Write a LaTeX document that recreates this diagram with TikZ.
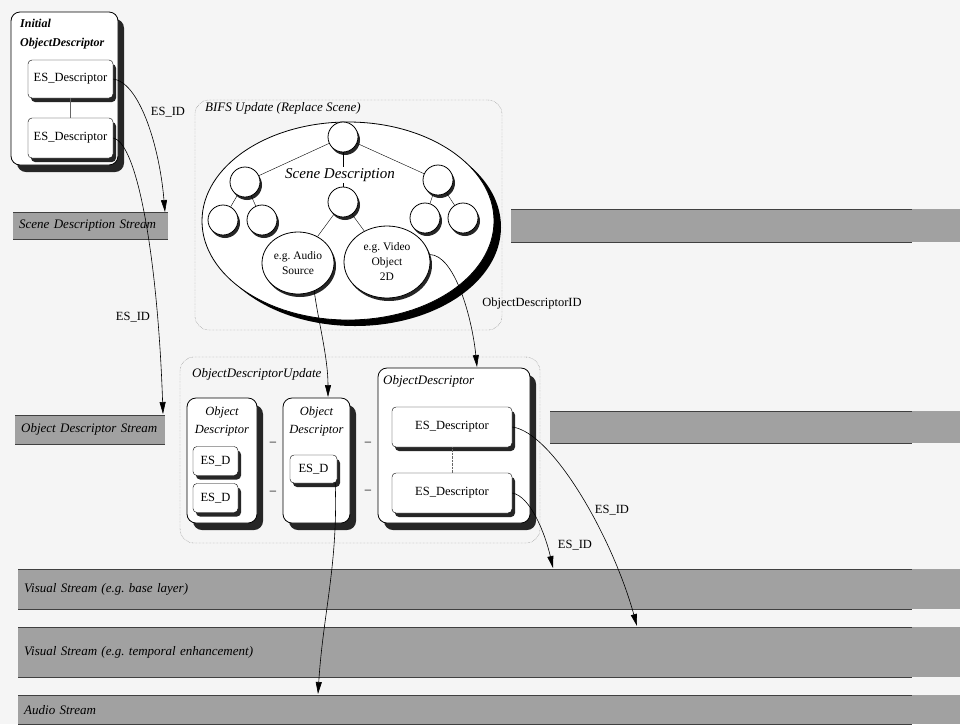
\documentclass[tikz,border=0pt]{standalone}
\usepackage{fontspec}
\setmainfont{Liberation Serif}
\usepackage{tikz}
\usetikzlibrary{arrows.meta,shapes.geometric,positioning,calc,shadows}

\begin{document}
\frenchspacing
\begin{tikzpicture}[x=1pt, y=-1pt,
    font=\fontsize{12.5}{16}\selectfont,
    odbox/.style={draw, thick, rounded corners=9pt, fill=white, drop shadow={shadow xshift=6pt, shadow yshift=-7pt, opacity=1, fill=black!85}},
    esbox/.style={draw, rounded corners=4pt, fill=white, inner sep=0pt, drop shadow={shadow xshift=3pt, shadow yshift=-4pt, opacity=1, fill=black!85}},
    tnode/.style={circle, draw, thick, fill=white, minimum size=30pt, inner sep=0pt, drop shadow={shadow xshift=2pt, shadow yshift=-3pt, opacity=1, fill=black!85}},
    bignode/.style={ellipse, draw, thick, fill=white, inner sep=0pt, align=center, font=\fontsize{11.5}{15}\selectfont, drop shadow={shadow xshift=2pt, shadow yshift=-3pt, opacity=1, fill=black!85}},
    grp/.style={draw=black!60, densely dotted, rounded corners=14pt},
    ttl/.style={font=\fontsize{13}{16}\selectfont\itshape, anchor=west, inner sep=0pt},
    odttl/.style={font=\fontsize{12.5}{18}\selectfont\itshape, align=center, inner sep=0pt},
    band/.style={fill=black!37, anchor=north west, inner xsep=6pt, inner ysep=0pt, align=left, font=\fontsize{13}{14}\selectfont\itshape},
    bline/.style={black!75, line width=1pt},
    arr/.style={-{Triangle[length=12pt, width=6pt]}, semithick},
    lbl/.style={inner sep=1pt}
]
\useasboundingbox (0,0) rectangle (960,724);
\fill[black!4] (0,0) rectangle (960,724);

% streams
\node[band, minimum width=155pt, minimum height=27pt, text width=143pt] (sdsl) at (13,212) {Scene Description Stream};
\node[band, minimum width=449pt, minimum height=33pt] (sdsr) at (511,209) {};
\node[band, minimum width=150pt, minimum height=29pt, text width=138pt] (odsl) at (15,415) {Object Descriptor Stream};
\node[band, minimum width=410pt, minimum height=32pt] (odsr) at (550,411) {};
\node[band, minimum width=942pt, minimum height=40pt, text width=930pt] (vbase) at (18,569) {Visual Stream (e.g. base layer)};
\node[band, minimum width=942pt, minimum height=50pt, text width=930pt] (vtemp) at (18,627) {Visual Stream (e.g. temporal enhancement)};
\node[band, minimum width=942pt, minimum height=29pt, text width=930pt] (aud) at (18,695) {Audio Stream};

\coordinate (xend) at (912,0);
\foreach \b in {sdsl,odsl} {
  \draw[bline] (\b.north west) -- (\b.north east);
  \draw[bline] (\b.south west) -- (\b.south east);
}
\foreach \b in {sdsr,odsr,vbase,vtemp,aud} {
  \draw[bline] (\b.north west) -- (\b.north west -| xend);
  \draw[bline] (\b.south west) -- (\b.south west -| xend);
}

% initial object descriptor
\node[odbox, minimum width=107pt, minimum height=153pt] (initod) at (64.5,88.5) {};
\node[font=\fontsize{12}{19}\selectfont\bfseries\itshape, anchor=north west, align=left, inner sep=0pt] (initttl) at (20,19) {Initial\\ObjectDescriptor};
\node[esbox, minimum width=85pt, minimum height=38pt] (ies1) at (70.5,79) {ES\_Descriptor};
\node[esbox, minimum width=85pt, minimum height=40pt] (ies2) at (70.5,138) {ES\_Descriptor};
\draw[black!60] (ies1) -- (ies2);

% BIFS update
\node[grp, minimum width=307pt, minimum height=230pt] (bifs) at (348.5,215) {};
\node[ttl] (bifsttl) at (205,108) {BIFS Update (Replace Scene)};
\node[ellipse, draw, thick, fill=white, minimum width=292pt, minimum height=198pt, drop shadow={shadow xshift=7pt, shadow yshift=-6pt, opacity=1, fill=black}] (scene) at (348,221) {};

\node[tnode] (t0) at (343,137) {};
\node[tnode] (tl) at (245,182) {};
\node[tnode] (tm) at (343,202) {};
\node[tnode] (tr) at (438,180) {};
\node[tnode] (tll) at (223,220) {};
\node[tnode] (tlr) at (262,220) {};
\node[tnode] (trl) at (425,218) {};
\node[tnode] (trr) at (463,218) {};
\node[bignode, minimum width=72pt, minimum height=62pt] (audio) at (298,263) {e.g. Audio\\Source};
\node[bignode, minimum width=86pt, minimum height=72pt] (video) at (387,262) {e.g. Video\\Object\\2D};

\draw (t0) -- (tl);
\draw (t0) -- (tm);
\draw (t0) -- (tr);
\draw (tl) -- (tll);
\draw (tl) -- (tlr);
\draw (tr) -- (trl);
\draw (tr) -- (trr);
\draw (tm) -- (audio);
\draw (tm) -- (video);
\node[font=\fontsize{15}{18}\selectfont\itshape, fill=white, inner sep=1pt] (scenettl) at (340,175) {Scene Description};

% object descriptor update
\node[grp, minimum width=360pt, minimum height=186pt] (odu) at (360,450) {};
\node[ttl] (oduttl) at (192,374) {ObjectDescriptorUpdate};

\node[odbox, minimum width=70pt, minimum height=125pt] (od1) at (222,460.5) {};
\node[odttl] (od1ttl) at (222,421) {Object\\Descriptor};
\node[esbox, minimum width=45pt, minimum height=29pt] (od1a) at (215.5,461) {ES\_D};
\node[esbox, minimum width=45pt, minimum height=29pt] (od1b) at (215.5,498) {ES\_D};

\node[odbox, minimum width=67pt, minimum height=125pt] (od2) at (316.5,460.5) {};
\node[odttl] (od2ttl) at (316.5,421) {Object\\Descriptor};
\node[esbox, minimum width=47pt, minimum height=28pt] (oes) at (313.5,469) {ES\_D};

\node[inner sep=0pt] (d1) at (273,444) {--};
\node[inner sep=0pt] (d2) at (273,493) {--};
\node[inner sep=0pt] (d3) at (368,444) {--};
\node[inner sep=0pt] (d4) at (368,492) {--};

\node[odbox, minimum width=152pt, minimum height=155pt] (odbig) at (454,445.5) {};
\node[ttl] (odbigttl) at (383,381) {ObjectDescriptor};
\node[esbox, minimum width=120pt, minimum height=40pt] (bes1) at (452,427) {ES\_Descriptor};
\node[esbox, minimum width=120pt, minimum height=40pt] (bes2) at (452,493) {ES\_Descriptor};
\draw[black!60, densely dotted] (bes1) -- (bes2);

% ES_ID references
\coordinate (tsds) at (165,212);
\coordinate (tods) at (163,414);
\coordinate (tod2) at (328,397);
\coordinate (todb) at (477,367);
\coordinate (taud) at (318,694);
\coordinate (tvtemp) at (637,626);
\coordinate (tvbase) at (553,568);

\draw[arr] (ies1.east) .. controls +(25,3) and +(-6,-70) .. (tsds);
\draw[arr] (ies2.east) .. controls +(25,5) and +(-5,-150) .. (tods);
\draw[arr] (audio.-60) .. controls +(4,30) and +(0,-40) .. (tod2);
\draw[arr] (video.10) .. controls +(25,0) and +(-5,-50) .. (todb);
\draw[arr] ([xshift=-2pt]oes.south east) .. controls +(3,80) and +(5,-80) .. (taud);
\draw[arr] (bes1.east) .. controls +(40,5) and +(-25,-90) .. (tvtemp);
\draw[arr] (bes2.east) .. controls +(18,3) and +(-8,-35) .. (tvbase);

\node[lbl] (esid1) at (168,112) {ES\_ID};
\node[lbl] (esid2) at (133,317) {ES\_ID};
\node[lbl] (odid) at (532,303) {ObjectDescriptorID};
\node[lbl] (esid3) at (612,510) {ES\_ID};
\node[lbl] (esid4) at (575,545) {ES\_ID};
\end{tikzpicture}
\end{document}
